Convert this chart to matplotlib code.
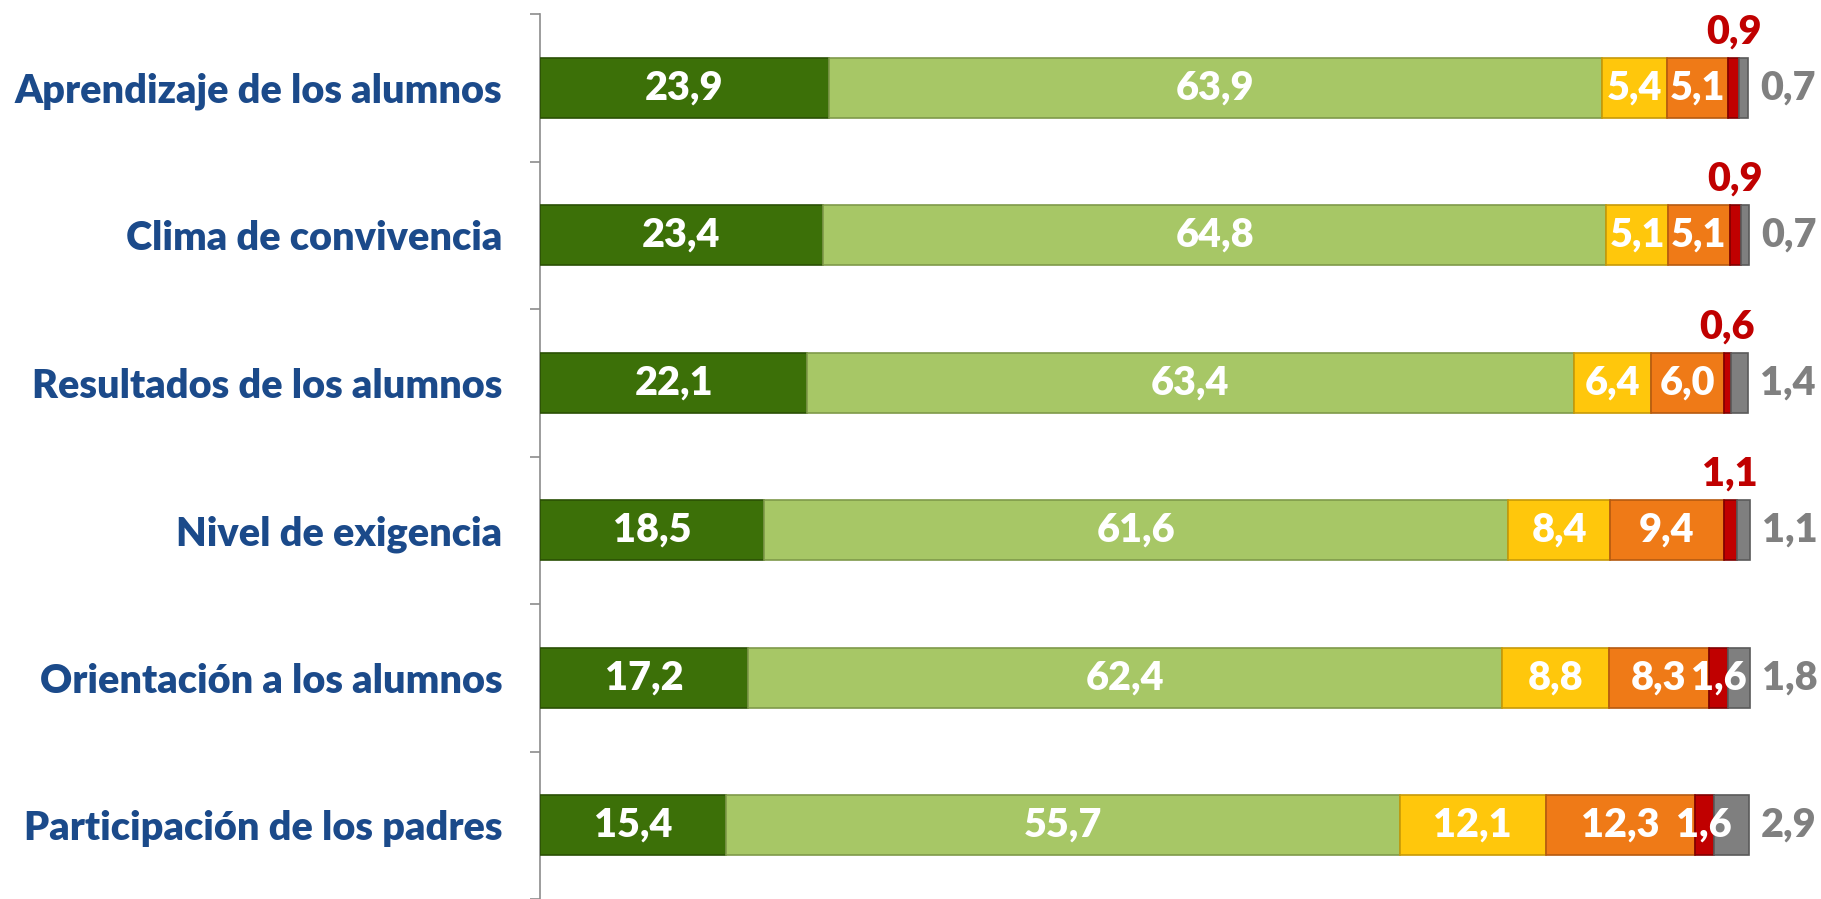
import matplotlib.pyplot as plt
import numpy as np

plt.rcParams['font.family'] = ['Lato', 'DejaVu Sans']

categorias = ["Aprendizaje de los alumnos", "Clima de convivencia",
              "Resultados de los alumnos", "Nivel de exigencia",
              "Orientación a los alumnos", "Participación de los padres"]
muy_bien = [23.9, 23.4, 22.1, 18.5, 17.2, 15.4]
bien = [63.9, 64.8, 63.4, 61.6, 62.4, 55.7]
regular = [5.4, 5.1, 6.4, 8.4, 8.8, 12.1]
mal = [5.1, 5.1, 6.0, 9.4, 8.3, 12.3]
muy_mal = [0.9, 0.9, 0.6, 1.1, 1.6, 1.6]
ns_nc = [0.7, 0.7, 1.4, 1.1, 1.8, 2.9]

series = [muy_bien, bien, regular, mal, muy_mal, ns_nc]
colores = ['#3C7008', '#A7C766', '#FFC70C', '#EF7A17', '#C00000', '#7F7F7F']
bordes = ['#2A5004', '#7F9A4A', '#C79A08', '#B55A10', '#800000', '#5A5A5A']

fig = plt.figure(figsize=(18.21, 8.99), dpi=100)
ax = fig.add_axes([540 / 1821, 0, 1 - 540 / 1821, 1 - 14 / 899])

fs = 28.5
y = np.arange(len(categorias))
izq = np.zeros(len(categorias))
alto = 0.41
for i, (vals, c, b) in enumerate(zip(series, colores, bordes)):
    vals = np.array(vals)
    ax.barh(y, vals, left=izq, height=alto, color=c, edgecolor=b, linewidth=1.2, zorder=3)
    for j, v in enumerate(vals):
        xc = izq[j] + v / 2
        etiqueta = f"{v:.1f}".replace('.', ',')
        if i < 4 or (i == 4 and v >= 1.5):
            ax.text(xc, y[j], etiqueta, ha='center', va='center',
                    color='white', fontsize=fs, fontweight='heavy', zorder=5)
        elif i == 4:
            ax.text(xc, y[j] - alto / 2 - 0.05, etiqueta, ha='center',
                    va='bottom', color='#C00000', fontsize=fs, fontweight='heavy', zorder=5)
        else:
            ax.text(izq[j] + v + 1.0, y[j], etiqueta, ha='left',
                    va='center', color='#808080', fontsize=fs, fontweight='heavy', zorder=5)
    izq = izq + vals

ax.set_xlim(0, (1821 - 540) / 12.09)
ax.set_ylim(len(categorias) - 0.5, -0.5)
ax.set_yticks(y)
ax.set_yticklabels(categorias, fontsize=fs, fontweight='heavy', color='#1B4A8A')
ax.set_yticks(np.arange(-0.5, len(categorias)), minor=True)
ax.tick_params(axis='y', which='major', length=0, pad=27)
ax.tick_params(axis='y', which='minor', length=7, width=1.2, color='#8C8C8C', direction='out')
ax.set_xticks([])
for s in ['top', 'right', 'bottom']:
    ax.spines[s].set_visible(False)
ax.spines['left'].set_color('#8C8C8C')
ax.spines['left'].set_linewidth(1.2)

fig.savefig('out.png', dpi=100)
